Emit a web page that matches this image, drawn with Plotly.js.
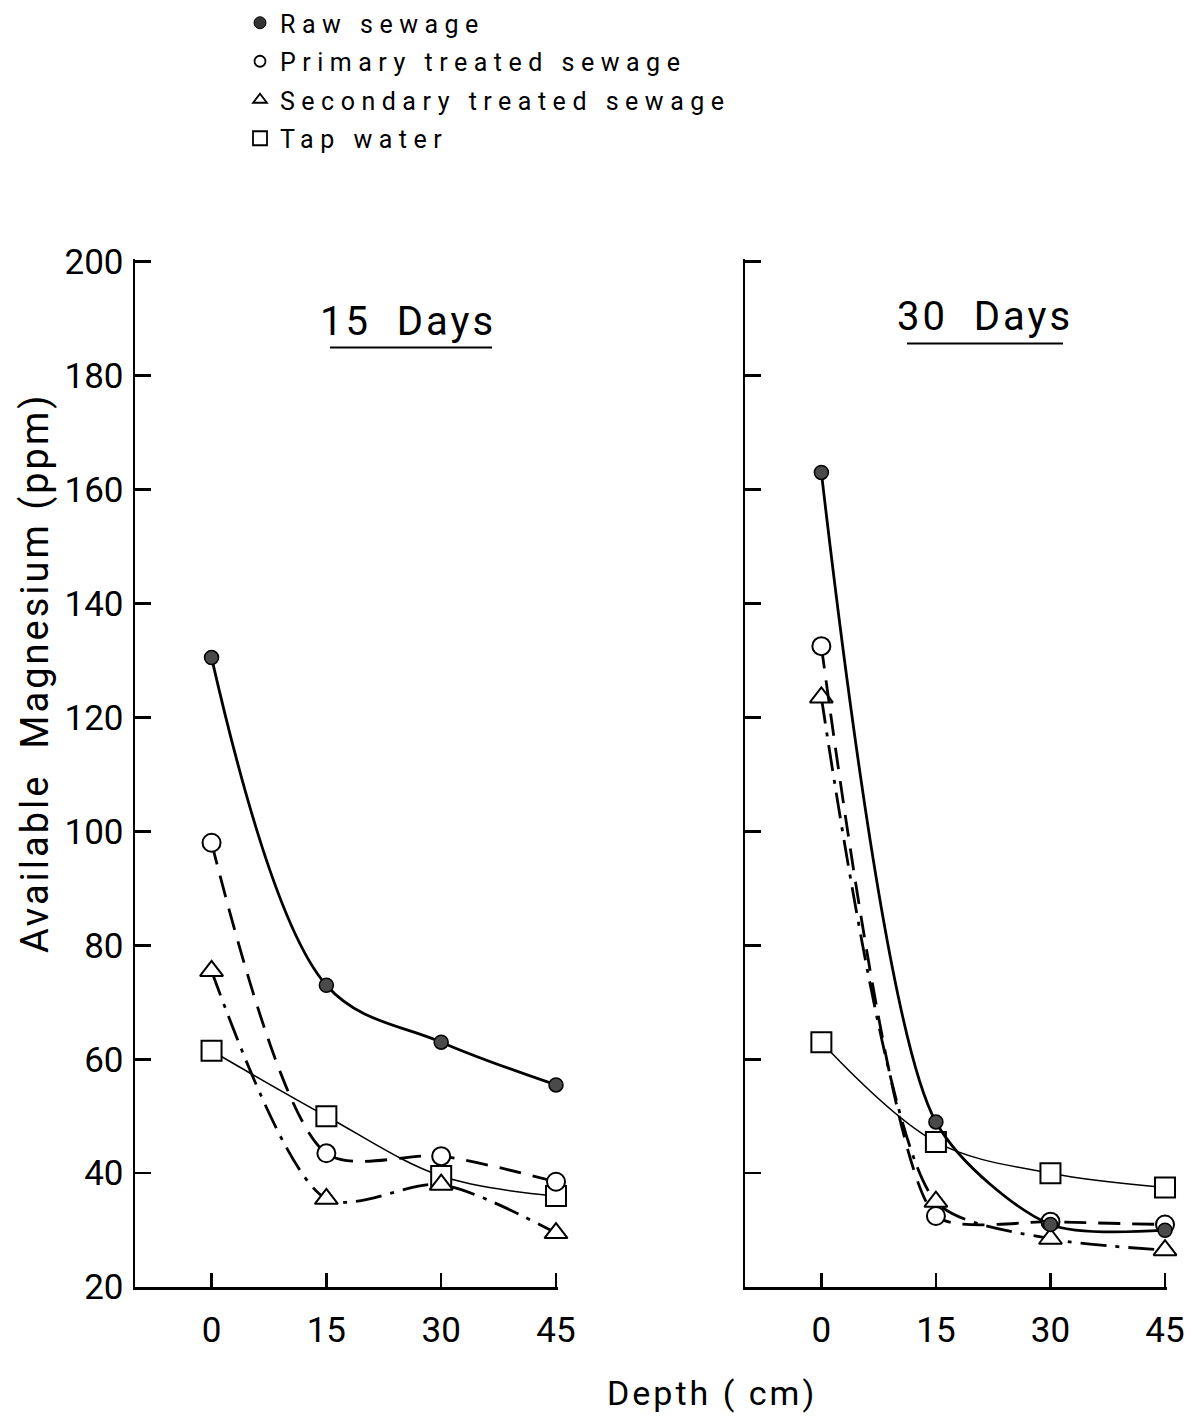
<!DOCTYPE html>
<html>
<head>
<meta charset="utf-8">
<script src="https://cdn.plot.ly/plotly-3.0.1.min.js"></script>
<style>
  body { margin: 0; background: #fff; }
  #chart { width: 1194px; height: 1421px; }
  .legendtext { letter-spacing: 6.5px; }
  .annotation-text { letter-spacing: 3px; }
</style>
</head>
<body>
<div id="chart"></div>
<script>
// ---- data ----
var depth = [0, 15, 30, 45];
var depthTicks = [0, 15, 30, 45];
var depthTickText = ['0', '15', '30', '45'];
var seriesNames = ['Raw sewage', 'Primary treated sewage', 'Secondary treated sewage', 'Tap water'];

// 15 Days
var raw15 = [130.5, 73, 63, 55.5];
var primary15 = [98, 43.5, 43, 38.5];
var secondary15 = [75.5, 35.5, 38, 29.5];
var tap15 = [61.5, 50, 39.5, 36];

// 30 Days
var raw30 = [163, 49, 31, 30];
var primary30 = [132.5, 32.5, 31.5, 31];
var secondary30 = [123.5, 35, 28.5, 26.5];
var tap30 = [63, 45.5, 40, 37.5];

// ---- styles ----
var styles = [
  {line: {color: '#000', width: 2.8, dash: 'solid', shape: 'spline'},
   marker: {symbol: 'circle', size: 14, color: '#4a4a4a', line: {color: '#000', width: 1.5}}},
  {line: {color: '#000', width: 2.8, dash: '22px,12px', shape: 'spline'},
   marker: {symbol: 'circle', size: 18, color: '#fff', line: {color: '#000', width: 2}}},
  {line: {color: '#000', width: 2.8, dash: '26px,9px,4px,9px', shape: 'spline'},
   marker: {symbol: 'triangle-up', size: 20, color: '#fff', line: {color: '#000', width: 2}}},
  {line: {color: '#000', width: 1.5, dash: 'solid', shape: 'spline'},
   marker: {symbol: 'square', size: 20, color: '#fff', line: {color: '#000', width: 2}}}
];

function mk(y, i, xa, ya, smooth) {
  var ln = Object.assign({}, styles[i].line, {smoothing: smooth});
  return {
    x: depth, y: y, xaxis: xa, yaxis: ya, type: 'scatter', mode: 'lines+markers',
    line: ln, marker: styles[i].marker, showlegend: false, cliponaxis: false,
    hoverinfo: 'skip'
  };
}

var legendMarkers = [
  {symbol: 'circle', size: 12, color: '#333', line: {color: '#000', width: 1}},
  {symbol: 'circle-open', size: 11, color: '#000', line: {width: 1.8}},
  {symbol: 'triangle-up-open', size: 12, color: '#000', line: {width: 1.8}},
  {symbol: 'square-open', size: 14, color: '#000', line: {width: 1.8}}
];

var traces = [];
var s15 = [raw15, primary15, secondary15, tap15];
var s30 = [raw30, primary30, secondary30, tap30];
var smooth15 = [1, 0.8, 0.8, 1];
var smooth30 = [0.75, 0.6, 0.7, 1];
[3, 2, 1, 0].forEach(function (i) { traces.push(mk(s15[i], i, 'x', 'y', smooth15[i])); });
[3, 2, 1, 0].forEach(function (i) { traces.push(mk(s30[i], i, 'x2', 'y2', smooth30[i])); });
seriesNames.forEach(function (n, i) {
  traces.push({
    x: [null], y: [null], type: 'scatter', mode: 'markers', name: n,
    marker: legendMarkers[i], showlegend: true, legendgroup: 'g' + i,
    xaxis: 'x', yaxis: 'y'
  });
});

var FONT = 'Roboto, "DejaVu Sans", sans-serif';
var W = 1194, H = 1421;
function px(x) { return x / W; }
function py(y) { return 1 - y / H; }

var xcommon = {
  range: [-10, 45.3], tickvals: depthTicks, ticktext: depthTickText,
  ticks: 'inside', ticklen: 14, tickwidth: 2.5, tickcolor: '#000',
  showline: true, linewidth: 2.5, linecolor: '#000', mirror: false,
  showgrid: false, zeroline: false,
  tickfont: {family: FONT, size: 35, color: '#000'}, ticklabelstandoff: 10
};
var ycommon = {
  range: [20, 200.5], dtick: 20, tick0: 0,
  ticks: 'inside', ticklen: 16, tickwidth: 2.5, tickcolor: '#000',
  showline: true, linewidth: 2.5, linecolor: '#000',
  showgrid: false, zeroline: false,
  tickfont: {family: FONT, size: 35, color: '#000'}, ticklabelstandoff: 2
};

function ann(text, x, y, size, angle) {
  return {text: text, xref: 'paper', yref: 'paper', x: px(x), y: py(y),
    xanchor: 'center', yanchor: 'middle', textangle: angle || 0,
    showarrow: false, font: {family: FONT, size: size, color: '#000'}};
}

var layout = {
  width: W, height: H,
  margin: {l: 0, r: 0, t: 0, b: 0},
  paper_bgcolor: '#fff', plot_bgcolor: 'rgba(0,0,0,0)',
  font: {family: FONT, color: '#000'},
  xaxis: Object.assign({}, xcommon, {domain: [px(135), px(558.3)], anchor: 'y'}),
  yaxis: Object.assign({}, ycommon, {domain: [py(1287), py(257.1)], anchor: 'x'}),
  xaxis2: Object.assign({}, xcommon, {domain: [px(745), px(1167.3)], anchor: 'y2'}),
  yaxis2: Object.assign({}, ycommon, {domain: [py(1287), py(257.1)], anchor: 'x2', showticklabels: false}),
  showlegend: true,
  legend: {
    x: px(240), y: py(-2), xanchor: 'left', yanchor: 'top',
    font: {family: FONT, size: 25, color: '#000'},
    bgcolor: 'rgba(0,0,0,0)', tracegroupgap: 3, itemclick: false
  },
  annotations: [
    ann('Available  Magnesium (ppm)', 35, 672, 38, -90),
    ann('Depth ( cm)', 712, 1393, 34),
    ann('15  Days', 408, 320, 40),
    ann('30  Days', 985, 315, 40)
  ],
  shapes: [
    {type: 'line', xref: 'paper', yref: 'paper', x0: px(330), x1: px(492), y0: py(346), y1: py(346),
     line: {color: '#000', width: 2}},
    {type: 'line', xref: 'paper', yref: 'paper', x0: px(907), x1: px(1063), y0: py(342), y1: py(342),
     line: {color: '#000', width: 2}}
  ]
};

Plotly.newPlot('chart', traces, layout, {staticPlot: true, displayModeBar: false});
</script>
</body>
</html>
